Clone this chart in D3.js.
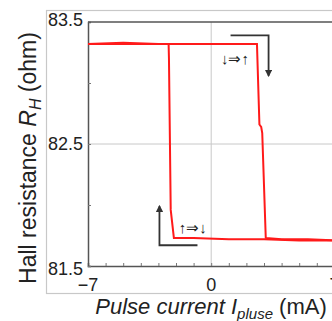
<!DOCTYPE html>
<html>
<head>
<meta charset="utf-8">
<script src="https://cdn.jsdelivr.net/npm/d3@7"></script>
<style>
body { margin: 0; background: #fff; }
text { font-family: "Liberation Sans", Arial, sans-serif; fill: #222; }
</style>
</head>
<body>
<script>
// sweep towards + current (high -> low state)
var upI = [-7, -5, -3, -1, 1, 2.6, 2.74, 2.84, 2.9, 3.1, 4, 5.5, 7];
var upR = [83.32, 83.33, 83.32, 83.32, 83.32, 83.32, 82.66, 82.64, 82.59, 81.73, 81.72, 81.72, 81.71];
// sweep towards - current (low -> high state)
var downI = [7, 5, 3, 1, -1, -2.12, -2.3, -2.4, -2.42, -4, -7];
var downR = [81.71, 81.71, 81.72, 81.72, 81.73, 81.73, 81.96, 83.2, 83.32, 83.32, 83.32];

var xTicks = d3.range(-7, 8, 1);
var xLabels = [-7, 0, 7];
var yTicks = [81.5, 82, 82.5, 83, 83.5];
var yLabels = [81.5, 82.5, 83.5];

var W = 332, H = 321;
var svg = d3.select("body").append("svg").attr("width", W).attr("height", H);

var x = d3.scaleLinear().domain([-7, 7]).range([88, 334.4]);
var y = d3.scaleLinear().domain([81.5, 83.5]).range([266, 22]);

// outer frame
svg.append("rect").attr("x", 46.5).attr("y", 10.5).attr("width", 300).attr("height", 283)
  .attr("fill", "#fff").attr("stroke", "#c8c8c8").attr("stroke-width", 1.2);

// grid
svg.append("line").attr("x1", x(0)).attr("x2", x(0)).attr("y1", y(83.5)).attr("y2", y(81.5))
  .attr("stroke", "#c8c8c8").attr("stroke-width", 1);
svg.append("line").attr("x1", x(-7)).attr("x2", x(7)).attr("y1", y(82.5)).attr("y2", y(82.5))
  .attr("stroke", "#c8c8c8").attr("stroke-width", 1);

// axes (inward ticks)
var xAxis = d3.axisBottom(x).tickValues(xTicks).tickSize(-3).tickFormat("");
var gx = svg.append("g").attr("transform", "translate(0," + y(81.5) + ")").call(xAxis);
var yAxis = d3.axisLeft(y).tickValues(yTicks).tickSize(-3).tickFormat("");
var gy = svg.append("g").attr("transform", "translate(" + x(-7) + ",0)").call(yAxis);
svg.selectAll(".domain").attr("stroke", "#555").attr("stroke-width", 1.5);
svg.selectAll(".tick line").attr("stroke", "#777");

// top frame line
svg.append("line").attr("x1", x(-7)).attr("x2", x(7)).attr("y1", y(83.5)).attr("y2", y(83.5))
  .attr("stroke", "#555").attr("stroke-width", 1.5);

// tick labels
svg.selectAll(".ylab").data(yLabels).enter().append("text")
  .attr("x", x(-7) - 5).attr("y", function(d) { return y(d); })
  .attr("dy", d => d == 83.5 ? "0.2em" : (d == 81.5 ? "0.5em" : "0.35em"))
  .attr("text-anchor", "end").style("font-size", "18px")
  .text(d => d.toFixed(1));
svg.selectAll(".xlab").data(xLabels).enter().append("text")
  .attr("x", d => x(d)).attr("y", 291)
  .attr("text-anchor", "middle").style("font-size", "18px")
  .text(d => d < 0 ? "\u2212" + Math.abs(d) : d);

// data lines
var line = d3.line().x(d => x(d[0])).y(d => y(d[1]));
[[upI, upR], [downI, downR]].forEach(function(s) {
  svg.append("path").datum(d3.zip(s[0], s[1]))
    .attr("d", line).attr("fill", "none")
    .attr("stroke", "#ff1a1a").attr("stroke-width", 2);
});

// sweep arrows
svg.append("defs").append("marker").attr("id", "ah")
  .attr("viewBox", "0 0 10 10").attr("refX", 8).attr("refY", 5)
  .attr("markerWidth", 4).attr("markerHeight", 4).attr("orient", "auto")
  .append("path").attr("d", "M0,0L10,5L0,10z").attr("fill", "#333");

svg.append("path")
  .attr("d", "M" + x(1.1) + "," + y(83.39) + "H" + x(3.26) + "V" + y(83.06))
  .attr("fill", "none").attr("stroke", "#333").attr("stroke-width", 1.8)
  .attr("marker-end", "url(#ah)");
svg.append("path")
  .attr("d", "M" + x(-0.78) + "," + y(81.67) + "H" + x(-2.94) + "V" + y(81.99))
  .attr("fill", "none").attr("stroke", "#333").attr("stroke-width", 1.8)
  .attr("marker-end", "url(#ah)");

svg.append("text").attr("x", x(1.35)).attr("y", y(83.2)).attr("dy", "0.35em")
  .attr("text-anchor", "middle").style("font-size", "15px").text("\u2193\u21d2\u2191");
svg.append("text").attr("x", x(-1.05)).attr("y", y(81.81)).attr("dy", "0.35em")
  .attr("text-anchor", "middle").style("font-size", "15px").text("\u2191\u21d2\u2193");

// axis titles
var yt = svg.append("text").attr("transform", "translate(36,158) rotate(-90)")
  .attr("text-anchor", "middle").style("font-size", "23px");
yt.append("tspan").text("Hall resistance ");
yt.append("tspan").style("font-style", "italic").text("R");
yt.append("tspan").style("font-style", "italic").style("font-size", "16px").attr("dy", 5).text("H");
yt.append("tspan").attr("dy", -5).text(" (ohm)");

var xt = svg.append("text").attr("x", 211).attr("y", 314)
  .attr("text-anchor", "middle").style("font-size", "22px");
xt.append("tspan").style("font-style", "italic").text("Pulse current I");
xt.append("tspan").style("font-style", "italic").style("font-size", "15px").attr("dy", 5).text("pluse");
xt.append("tspan").attr("dy", -5).text(" (mA)");
</script>
</body>
</html>
